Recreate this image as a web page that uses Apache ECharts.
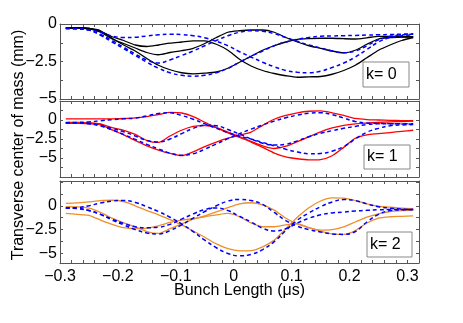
<!DOCTYPE html>
<html>
<head>
<meta charset="utf-8">
<script src="https://cdn.jsdelivr.net/npm/echarts@6/dist/echarts.min.js"></script>
<style>
  html, body { margin: 0; padding: 0; background: #fff; }
  #chart { width: 463px; height: 323px; }
</style>
</head>
<body>
<div id="chart"></div>
<script>
// bunch position (us), shared by every trace
const bunchX = [-0.29, -0.27, -0.25, -0.23, -0.21, -0.19, -0.17, -0.15, -0.13, -0.11, -0.09,
  -0.07, -0.05, -0.03, -0.01, 0.01, 0.03, 0.05, 0.07, 0.09, 0.11, 0.13, 0.15, 0.17, 0.19,
  0.21, 0.23, 0.25, 0.27, 0.29, 0.31]

// k = 0, measured (solid black)
const k0MeasA = [-0.27, -0.28, -0.3, -0.45, -0.95, -1.4, -1.8, -2.3, -2.75, -3.05, -3.25,
  -3.32, -3.28, -3.2, -2.95, -2.55, -2.15, -1.75, -1.45, -1.2, -1.02, -0.97, -0.95, -0.95, -0.98,
  -1.0, -0.92, -0.82, -0.82, -0.85, -0.85]
const k0MeasB = [-0.25, -0.25, -0.3, -0.5, -0.85, -1.1, -1.4, -1.5, -1.4, -1.28, -1.2,
  -1.12, -1.12, -1.35, -1.75, -2.35, -2.8, -3.1, -3.3, -3.45, -3.55, -3.52, -3.5, -3.35, -3.1,
  -2.75, -2.25, -1.75, -1.4, -1.1, -0.9]
const k0MeasC = [-0.25, -0.25, -0.3, -0.55, -1.0, -1.3, -1.6, -1.9, -2.05, -1.9, -1.78,
  -1.62, -1.3, -0.9, -0.55, -0.45, -0.4, -0.4, -0.55, -0.9, -1.2, -1.45, -1.62, -1.8, -1.92,
  -1.75, -1.35, -1.0, -0.9, -0.88, -0.85]
// k = 0, simulated (dashed blue)
const k0SimA = [-0.3, -0.32, -0.38, -0.55, -0.8, -0.9, -0.88, -0.8, -0.72, -0.68, -0.7,
  -0.78, -0.92, -1.15, -1.45, -1.85, -2.2, -2.55, -2.85, -3.1, -3.22, -3.25, -3.15, -2.9, -2.6,
  -2.2, -1.7, -1.2, -0.9, -0.78, -0.72]
const k0SimB = [-0.3, -0.32, -0.4, -0.75, -1.2, -1.65, -2.1, -2.55, -2.95, -3.25, -3.42,
  -3.48, -3.42, -3.25, -2.95, -2.55, -2.15, -1.8, -1.45, -1.2, -1.02, -0.9, -0.82, -0.8, -0.78,
  -0.76, -0.74, -0.72, -0.7, -0.68, -0.65]
const k0SimC = [-0.3, -0.32, -0.4, -0.7, -1.1, -1.55, -2.0, -2.4, -2.6, -2.4, -2.1,
  -1.8, -1.45, -1.1, -0.78, -0.55, -0.45, -0.48, -0.65, -0.9, -1.15, -1.4, -1.6, -1.8, -1.92,
  -1.8, -1.45, -1.05, -0.82, -0.72, -0.68]

// k = 1, measured (solid red)
const k1MeasA = [0.15, 0.15, 0.15, 0.15, 0.15, 0.2, 0.28, 0.45, 0.7, 1.0, 0.92,
  0.45, -0.3, -1.0, -1.7, -2.3, -2.9, -3.6, -4.35, -4.85, -5.1, -5.25, -5.2, -4.7, -3.6,
  -2.4, -1.95, -1.8, -1.65, -1.5, -1.35]
const k1MeasB = [-0.3, -0.32, -0.38, -0.5, -1.0, -1.35, -1.9, -2.7, -2.95, -2.1, -1.35,
  -0.85, -0.75, -1.0, -1.6, -2.2, -2.8, -3.4, -3.75, -3.45, -2.85, -2.2, -1.55, -1.05, -0.7,
  -0.5, -0.4, -0.32, -0.25, -0.2, -0.15]
const k1MeasC = [-0.45, -0.45, -0.48, -0.6, -1.3, -1.95, -2.7, -3.4, -3.95, -4.4, -4.7,
  -4.2, -3.5, -2.9, -2.4, -2.0, -1.6, -0.7, 0.1, 0.6, 0.95, 1.15, 1.2, 0.95, 0.6,
  0.2, 0.05, 0.0, -0.05, -0.08, -0.1]
// k = 1, simulated (dashed blue)
const k1SimA = [-0.35, -0.32, -0.25, -0.1, 0.05, 0.15, 0.25, 0.55, 0.85, 0.95, 0.6,
  0.1, -0.5, -1.1, -1.65, -2.15, -2.5, -2.95, -3.4, -3.85, -4.2, -4.45, -4.4, -4.1, -3.5,
  -2.5, -1.6, -1.1, -0.75, -0.65, -0.6]
const k1SimB = [-0.35, -0.38, -0.45, -0.7, -1.1, -1.55, -2.1, -2.7, -2.9, -2.5, -1.8,
  -1.1, -0.7, -0.75, -1.25, -1.85, -2.5, -3.05, -3.3, -3.2, -2.75, -2.2, -1.75, -1.4, -1.1,
  -0.85, -0.6, -0.5, -0.5, -0.5, -0.5]
const k1SimC = [-0.35, -0.38, -0.5, -0.8, -1.3, -1.9, -2.55, -3.2, -3.8, -4.35, -4.65,
  -4.45, -3.85, -3.15, -2.45, -1.8, -1.2, -0.65, -0.15, 0.3, 0.65, 0.9, 0.95, 0.7, 0.25,
  -0.2, -0.4, -0.45, -0.48, -0.52, -0.55]

// k = 2, measured (solid orange)
const k2MeasA = [0.25, 0.3, 0.4, 0.55, 0.58, 0.45, 0.0, -0.5, -0.95, -1.45, -2.0,
  -2.65, -3.3, -4.0, -4.5, -4.72, -4.7, -4.3, -3.6, -2.4, -1.2, -0.2, 0.5, 0.82, 0.8,
  0.55, 0.2, -0.05, -0.15, -0.25, -0.3]
const k2MeasB = [-0.1, -0.12, -0.25, -0.7, -1.3, -1.8, -2.2, -2.7, -2.9, -2.4, -1.9,
  -1.4, -1.05, -0.65, -0.2, 0.2, 0.32, 0.1, -0.45, -1.3, -1.9, -2.3, -2.65, -2.95, -3.0,
  -2.6, -1.8, -1.3, -1.15, -1.1, -1.05]
const k2MeasC = [-0.8, -0.9, -1.0, -1.5, -1.95, -2.3, -2.4, -2.35, -2.1, -1.75, -1.5,
  -1.35, -1.15, -0.95, -0.8, -1.15, -1.8, -2.2, -2.2, -2.0, -1.9, -2.3, -2.55, -2.5, -2.2,
  -1.7, -1.2, -0.85, -0.6, -0.5, -0.45]
// k = 2, simulated (dashed blue)
const k2SimA = [-0.25, -0.2, 0.0, 0.3, 0.5, 0.55, 0.35, -0.1, -0.6, -1.2, -1.9,
  -2.7, -3.6, -4.4, -5.0, -5.25, -5.1, -4.6, -3.75, -2.6, -1.5, -0.75, -0.1, 0.4, 0.65,
  0.55, 0.2, -0.1, -0.25, -0.35, -0.4]
const k2SimB = [-0.2, -0.25, -0.5, -0.9, -1.5, -2.0, -2.5, -2.85, -2.95, -2.6, -2.0,
  -1.3, -0.6, 0.0, 0.5, 0.67, 0.55, 0.15, -0.7, -1.55, -2.15, -2.5, -2.75, -2.95, -3.0,
  -2.7, -1.7, -0.9, -0.5, -0.42, -0.4]
const k2SimC = [-0.25, -0.3, -0.5, -0.9, -1.4, -1.85, -2.2, -2.3, -2.25, -1.95, -1.4,
  -0.85, -0.4, -0.22, -0.5, -1.1, -1.7, -2.35, -2.65, -2.4, -1.8, -1.3, -0.95, -0.75, -0.65,
  -0.55, -0.48, -0.42, -0.4, -0.4, -0.4]

const xTickLabels = [-0.3, -0.2, -0.1, 0, 0.1, 0.2, 0.3]
const yTickLabels = [0, -2.5, -5]

const panels = [
  { label: 'k= 0', color: '#000000', meas: [k0MeasA, k0MeasB, k0MeasC], sim: [k0SimA, k0SimB, k0SimC],
    top: 24, height: 75, yMin: -5, yMax: 0, box: [363, 62, 46, 25] },
  { label: 'k= 1', color: '#ff0000', meas: [k1MeasA, k1MeasB, k1MeasC], sim: [k1SimA, k1SimB, k1SimC],
    top: 101, height: 76, yMin: -7.5, yMax: 2.5, box: [364, 145, 46, 24] },
  { label: 'k= 2', color: '#ec8f2a', meas: [k2MeasA, k2MeasB, k2MeasC], sim: [k2SimA, k2SimB, k2SimC],
    top: 181, height: 82, yMin: -6, yMax: 2.6, box: [367, 232, 45, 25] }
]

const FONT = '"Liberation Sans", Arial, sans-serif'
const FONT_SIZE = 16
const AXIS_COLOR = '#555'
const X_MIN = -0.3
const X_MAX = 0.32

function fmt (v) {
  if (Math.abs(v) < 1e-9) return '0'
  const s = Math.abs(v).toString()
  return v < 0 ? '\u2212' + s : s
}

// tick positions (minor ticks every 0.02 on x, every 1.25 on y)
const xTicks = []
for (let i = 0; i <= 31; i++) xTicks.push(Math.round((X_MIN + 0.02 * i) * 100) / 100)
function yTicks (lo, hi) {
  const out = []
  for (let v = Math.ceil(lo / 1.25) * 1.25; v <= hi + 1e-9; v += 1.25) out.push(v)
  return out
}

const grids = []
const xAxes = []
const yAxes = []
const series = []
const graphics = []

panels.forEach((p, i) => {
  grids.push({ left: 60, width: 359, top: p.top, height: p.height })
  const isLast = i === panels.length - 1
  const baseX = {
    type: 'value', gridIndex: i, min: X_MIN, max: X_MAX,
    axisLine: { show: true, onZero: false, lineStyle: { color: AXIS_COLOR, width: 1 } },
    axisTick: { show: true, inside: true, length: 3, customValues: xTicks, lineStyle: { color: AXIS_COLOR } },
    splitLine: { show: false }
  }
  xAxes.push(Object.assign({}, baseX, {
    position: 'bottom',
    axisLabel: {
      show: isLast, customValues: xTickLabels, formatter: fmt, margin: 6,
      color: '#000', fontFamily: FONT, fontSize: FONT_SIZE
    }
  }))
  xAxes.push(Object.assign({}, baseX, { position: 'top', axisLabel: { show: false } }))

  const baseY = {
    type: 'value', gridIndex: i, min: p.yMin, max: p.yMax,
    axisLine: { show: true, onZero: false, lineStyle: { color: AXIS_COLOR, width: 1 } },
    axisTick: { show: true, inside: true, length: 3, customValues: yTicks(p.yMin, p.yMax), lineStyle: { color: AXIS_COLOR } },
    splitLine: { show: false }
  }
  yAxes.push(Object.assign({}, baseY, {
    position: 'left',
    axisLabel: {
      customValues: yTickLabels, formatter: fmt, margin: 3,
      color: '#000', fontFamily: FONT, fontSize: FONT_SIZE
    }
  }))
  yAxes.push(Object.assign({}, baseY, { position: 'right', axisLabel: { show: false } }))

  p.meas.forEach(ys => {
    series.push({
      type: 'line', xAxisIndex: 2 * i, yAxisIndex: 2 * i,
      data: bunchX.map((x, j) => [x, ys[j]]),
      symbol: 'none', smooth: 0.25,
      lineStyle: { color: p.color, width: 1.3 }
    })
  })
  p.sim.forEach(ys => {
    series.push({
      type: 'line', xAxisIndex: 2 * i, yAxisIndex: 2 * i,
      data: bunchX.map((x, j) => [x, ys[j]]),
      symbol: 'none', smooth: 0.4,
      lineStyle: { color: '#0000ff', width: 1.5, type: [4, 3] }
    })
  })

  const [bx, by, bw, bh] = p.box
  graphics.push({
    type: 'rect', shape: { x: bx, y: by, width: bw, height: bh },
    style: { fill: '#fff', stroke: '#888', lineWidth: 1 }, z: 100
  })
  graphics.push({
    type: 'text', x: bx + 3, y: by + bh / 2, z: 101,
    style: { text: p.label, font: FONT_SIZE + 'px ' + FONT, fill: '#000', textVerticalAlign: 'middle' }
  })
})

graphics.push({
  type: 'text', x: 19, y: 145, rotation: Math.PI / 2,
  style: {
    text: 'Transverse center of mass (mm)', font: FONT_SIZE + 'px ' + FONT, fill: '#000',
    textAlign: 'center', textVerticalAlign: 'middle'
  }
})
graphics.push({
  type: 'text', x: 239.5, y: 291,
  style: {
    text: 'Bunch Length (\u03bcs)', font: FONT_SIZE + 'px ' + FONT, fill: '#000',
    textAlign: 'center', textVerticalAlign: 'middle'
  }
})

const chart = echarts.init(document.getElementById('chart'))
chart.setOption({
  animation: false,
  backgroundColor: '#fff',
  grid: grids,
  xAxis: xAxes,
  yAxis: yAxes,
  series: series,
  graphic: graphics
})
</script>
</body>
</html>
